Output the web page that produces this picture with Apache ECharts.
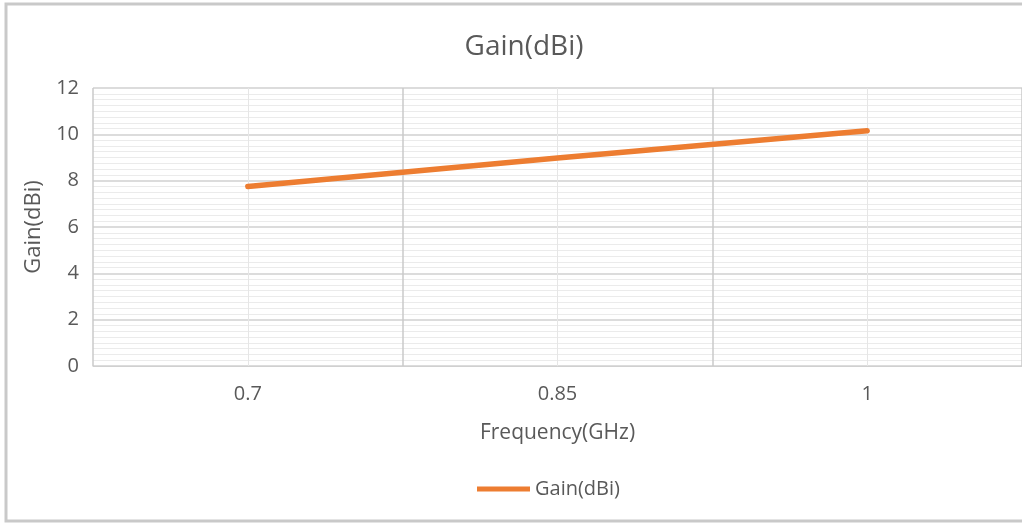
<!DOCTYPE html>
<html>
<head>
<meta charset="utf-8">
<script src="https://cdn.jsdelivr.net/npm/echarts@6/dist/echarts.min.js"></script>
<style>
html,body{margin:0;padding:0;background:#fff;}
#chart{width:1022px;height:524px;}
</style>
</head>
<body>
<div id="chart"></div>
<script>
const categories = ['0.7', '0.85', '1'];
const gainValues = [7.75, 8.98, 10.15];
const seriesName = 'Gain(dBi)';
const chartTitle = 'Gain(dBi)';
const xAxisName = 'Frequency(GHz)';
const yAxisName = 'Gain(dBi)';

const FONT = '"Open Sans", "Noto Sans", sans-serif';
const TXT = '#595959';

const chart = echarts.init(document.getElementById('chart'), null, {renderer: 'canvas'});
chart.setOption({
  animation: false,
  backgroundColor: '#ffffff',
  textStyle: {fontFamily: FONT},
  graphic: [{
    type: 'rect',
    shape: {x: 6, y: 4, width: 1040, height: 517},
    style: {fill: 'none', stroke: '#c9c9c9', lineWidth: 3},
    silent: true,
    z: -10
  }],
  title: {
    text: chartTitle,
    left: 519,
    top: 28,
    textAlign: 'center',
    textStyle: {fontFamily: FONT, fontSize: 28, fontWeight: 'normal', color: TXT}
  },
  legend: {
    data: [seriesName],
    top: 474,
    left: 472,
    itemWidth: 53,
    itemHeight: 5,
    itemGap: 6,
    textStyle: {fontFamily: FONT, fontSize: 20, color: TXT},
    icon: 'rect'
  },
  grid: {left: 93, top: 88, width: 930, height: 278, containLabel: false},
  xAxis: {
    type: 'category',
    data: categories,
    boundaryGap: true,
    name: xAxisName,
    nameLocation: 'middle',
    nameGap: 57,
    nameTextStyle: {fontFamily: FONT, fontSize: 21, color: TXT},
    axisLine: {show: true, lineStyle: {color: '#d0d0d0', width: 1}},
    axisTick: {show: true, inside: true, alignWithLabel: true, length: 278, lineStyle: {color: '#e6e6e6', width: 1}},
    axisLabel: {fontFamily: FONT, fontSize: 20, color: TXT, margin: 18},
    splitLine: {show: true, lineStyle: {color: '#cacaca', width: 1.5}}
  },
  yAxis: {
    type: 'value',
    min: 0,
    max: 12,
    interval: 2,
    name: yAxisName,
    nameLocation: 'middle',
    nameGap: 47,
    nameTextStyle: {fontFamily: FONT, fontSize: 22, color: TXT},
    axisLine: {show: false},
    axisTick: {show: false},
    axisLabel: {fontFamily: FONT, fontSize: 20, color: TXT, margin: 14},
    splitLine: {show: true, lineStyle: {color: '#d0d0d0', width: 1.5}},
    minorTick: {show: false, splitNumber: 8},
    minorSplitLine: {show: true, lineStyle: {color: '#ebebeb', width: 1}}
  },
  series: [{
    name: seriesName,
    type: 'line',
    data: gainValues,
    symbol: 'none',
    lineStyle: {color: '#ED7D31', width: 5.5, cap: 'round'},
    itemStyle: {color: '#ED7D31'}
  }]
});
</script>
</body>
</html>
